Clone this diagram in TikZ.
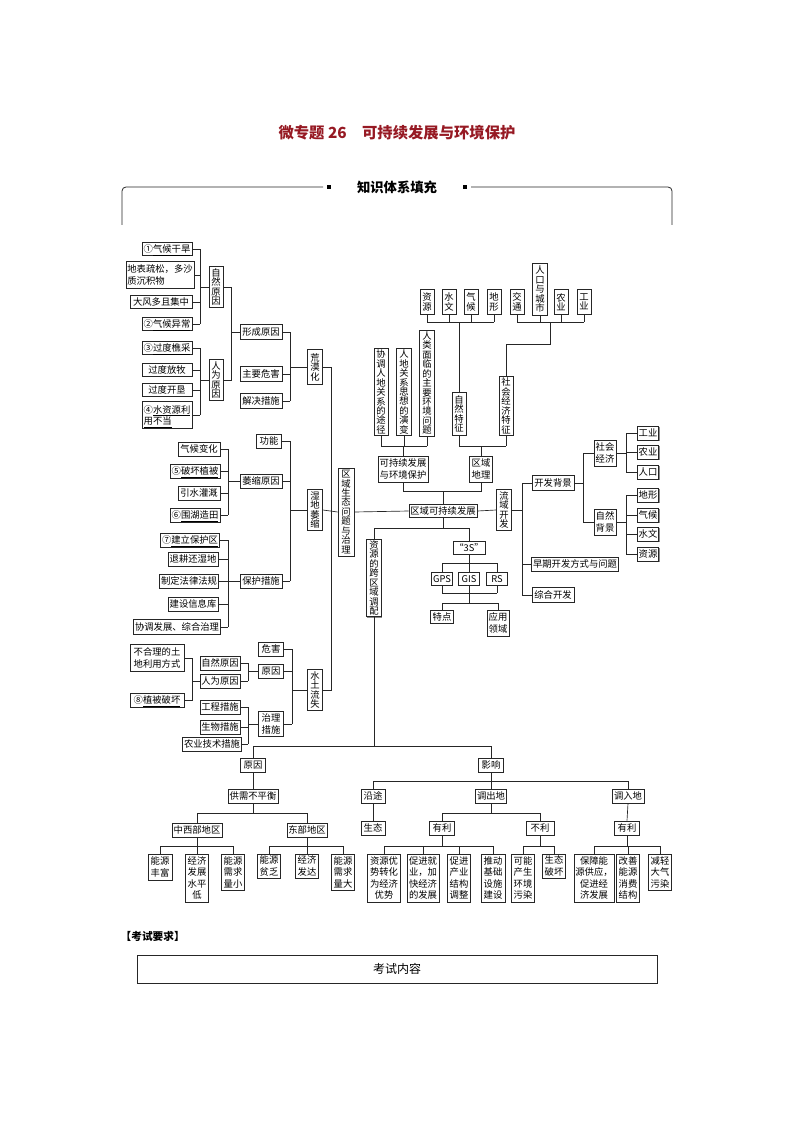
\documentclass[tikz,border=0pt]{standalone}
\usepackage{amsmath}
\usepackage{fontspec}
\setmainfont{Noto Sans CJK SC}
\usetikzlibrary{shadows}
\definecolor{tred}{RGB}{150,25,35}
\newcommand{\bx}[6]{\node[bx,minimum width=#4*0.75pt,minimum height=#5*0.75pt] (#1) at (#2,#3) {#6};}
\newcommand{\vx}[6]{\node[bx,vt,minimum width=#4*0.75pt,minimum height=#5*0.75pt] (#1) at (#2,#3) {#6};}
\newcommand{\U}[1]{\smash[b]{\underline{#1}}}
\begin{document}
\begin{tikzpicture}[x=0.75pt,y=-0.75pt,
  bx/.style={draw=black!85,fill=white,line width=0.5pt,inner sep=1pt,align=center,
    font=\fontsize{7}{8.6}\selectfont,
    drop shadow={shadow xshift=0.7pt,shadow yshift=-0.7pt,fill=black!45,opacity=1}},
  vt/.style={font=\fontsize{7}{7.1}\selectfont},
  ln/.style={line width=0.5pt,draw=black!85}]
\useasboundingbox (0,0) rectangle (794,1123);
\node[font=\fontsize{11.5}{13}\selectfont\bfseries,text=tred] (title) at (397,133) {微专题 26\quad 可持续发展与环境保护};
\node[font=\fontsize{10}{12}\selectfont\bfseries] (hdr) at (397,187) {知识体系填充};
\draw[ln,line width=0.6pt,rounded corners=3pt] (122,225) -- (122,187) -- (323,187);
\draw[ln,line width=0.6pt,rounded corners=3pt] (672,225) -- (672,187) -- (471,187);
\fill (327,185) rectangle (331,189);
\fill (463,185) rectangle (467,189);
% ---- desertification
\bx{t1}{167}{249}{50}{13}{①\U{气候干旱}}
\node[bx,minimum width=64*0.75pt,minimum height=27*0.75pt,align=left] (t2) at (160,275) {地表疏松，多沙\\质沉积物};
\bx{t3}{161}{302}{62}{13}{大风多且集中}
\bx{t4}{167}{324}{50}{13}{②\U{气候异常}}
\bx{t5}{167}{348}{50}{13}{③\U{过度樵采}}
\bx{t6}{167}{370}{50}{13}{过度放牧}
\bx{t7}{167}{390}{50}{13}{过度开垦}
\node[bx,minimum width=50*0.75pt,minimum height=27*0.75pt,align=left] (t8) at (167,415) {④\U{水资源利}\\\U{用不当}};
\vx{zr}{216}{287}{14}{41}{自\\然\\原\\因}
\vx{rw}{216}{380}{14}{41}{人\\为\\原\\因}
\bx{xc}{261}{332}{42}{15}{形成原因}
\bx{zw}{261}{374}{42}{15}{主要危害}
\bx{js}{261}{401}{42}{15}{解决措施}
\vx{hm}{315}{367}{15}{35}{荒\\漠\\化}
\coordinate (k200) at (200,0);\coordinate (k231) at (231,0);\coordinate (k290) at (290,0);\coordinate (k331) at (331,0);
\foreach \n in {t1,t2,t3,t4,t5,t6,t7,t8} \draw[ln] (\n.east) -- (\n.east -| k200);
\draw[ln] (t1.east -| k200) -- (t4.east -| k200);
\draw[ln] (t5.east -| k200) -- (t8.east -| k200);
\draw[ln] (zr.west) -- (zr.west -| k200);
\draw[ln] (rw.west) -- (rw.west -| k200);
\draw[ln] (zr.east) -- (zr.east -| k231) -- (rw.east -| k231) -- (rw.east);
\draw[ln] (xc.west) -- (xc.west -| k231);
\foreach \n in {xc,zw,js} \draw[ln] (\n.east) -- (\n.east -| k290);
\draw[ln] (xc.east -| k290) -- (js.east -| k290);
\draw[ln] (hm.west) -- (hm.west -| k290);
% ---- wetland
\bx{gn}{269}{441}{25}{14}{功能}
\bx{w1}{199}{449}{42}{14}{气候变化}
\bx{w2}{195}{471}{50}{14}{⑤\U{破坏植被}}
\bx{w3}{199}{493}{42}{14}{引水灌溉}
\bx{w4}{195}{515}{50}{14}{⑥\U{围湖造田}}
\bx{ws}{261}{481}{42}{14}{萎缩原因}
\bx{bh}{261}{581}{42}{14}{保护措施}
\bx{p1}{190}{540}{56}{14}{⑦\U{建立保护区}}
\bx{p2}{193}{559}{50}{14}{退耕还湿地}
\bx{p3}{189}{581}{58}{14}{制定法律法规}
\bx{p4}{193}{604}{50}{14}{建设信息库}
\bx{p5}{177}{627}{83}{15}{协调发展、综合治理}
\vx{sd}{315}{510}{15}{41}{湿\\地\\萎\\缩}
\vx{qy}{346}{512}{16}{88}{区\\域\\生\\态\\问\\题\\与\\治\\理}
\coordinate (k228) at (228,0);
\foreach \n in {w1,w2,w3,w4,p1,p2,p3,p4,p5} \draw[ln] (\n.east) -- (\n.east -| k228);
\draw[ln] (w1.east -| k228) -- (w4.east -| k228);
\draw[ln] (p1.east -| k228) -- (p5.east -| k228);
\draw[ln] (ws.west) -- (ws.west -| k228);
\draw[ln] (bh.west) -- (bh.west -| k228);
\foreach \n in {gn,ws,bh} \draw[ln] (\n.east) -- (\n.east -| k290);
\draw[ln] (gn.east -| k290) -- (bh.east -| k290);
\draw[ln] (sd.west) -- (sd.west -| k290);
\draw[ln] (sd.east) -- (qy.west);
% ---- soil erosion
\bx{sh}{271}{649}{25}{14}{危害}
\bx{sy}{271}{671}{25}{14}{原因}
\bx{sz}{271}{724}{25}{25}{治理\\措施}
\bx{s1}{220}{663}{40}{14}{自然原因}
\bx{s2}{220}{681}{40}{14}{人为原因}
\node[bx,minimum width=54*0.75pt,minimum height=27*0.75pt] (s3) at (157,658) {不合理的土\\地利用方式};
\bx{s4}{157}{700}{54}{14}{⑧\U{植被破坏}}
\bx{s5}{220}{707}{40}{14}{工程措施}
\bx{s6}{220}{727}{40}{14}{生物措施}
\bx{s7}{212}{744}{57}{14}{农业技术措施}
\vx{sl}{315}{690}{15}{41}{水\\土\\流\\失}
\coordinate (k248) at (248,0);\coordinate (k192) at (192,0);\coordinate (k292) at (292,0);
\foreach \n in {s1,s2,s5,s6,s7} \draw[ln] (\n.east) -- (\n.east -| k248);
\draw[ln] (s1.east -| k248) -- (s2.east -| k248);
\draw[ln] (s5.east -| k248) -- (s7.east -| k248);
\draw[ln] (sy.west) -- (sy.west -| k248);
\draw[ln] (sz.west) -- (sz.west -| k248);
\draw[ln] (s3.east) -- (s3.east -| k192) -- (s4.east -| k192) -- (s4.east);
\draw[ln] (s2.west) -- (s2.west -| k192);
\foreach \n in {sh,sy,sz} \draw[ln] (\n.east) -- (\n.east -| k292);
\draw[ln] (sh.east -| k292) -- (sz.east -| k292);
\draw[ln] (sl.west) -- (sl.west -| k292);
% spine
\draw[ln] (hm.east) -- (hm.east -| k331) -- (sl.east -| k331) -- (sl.east);
% ---- center
\bx{qk}{443}{511}{68}{13}{区域可持续发展}
\bx{kc}{403}{469}{50}{26}{可持续发展\\与环境保护}
\bx{dl}{481}{469}{23}{26}{区域\\地理}
\vx{c1}{381}{392}{14}{86}{协\\调\\人\\地\\关\\系\\的\\途\\径}
\vx{c2}{404}{392}{15}{87}{人\\地\\关\\系\\思\\想\\的\\演\\变}
\vx{c3}{427}{383}{15}{105}{人\\类\\面\\临\\的\\主\\要\\环\\境\\问\\题}
\vx{zt}{459}{414}{14}{43}{自\\然\\特\\征}
\vx{st}{506}{406}{14}{58}{社\\会\\经\\济\\特\\征}
\vx{r1}{427}{302}{14}{25}{资\\源}
\vx{r2}{449}{302}{14}{25}{水\\文}
\vx{r3}{471}{302}{14}{25}{气\\候}
\vx{r4}{494}{302}{14}{25}{地\\形}
\vx{r5}{517}{302}{14}{25}{交\\通}
\vx{r6}{540}{289}{15}{52}{人\\口\\与\\城\\市}
\vx{r7}{561}{302}{14}{25}{农\\业}
\vx{r8}{584}{302}{14}{25}{工\\业}
\coordinate (y322) at (0,322);\coordinate (y446) at (0,446);\coordinate (y491) at (0,491);
\foreach \n in {r1,r2,r3,r4,r5,r6,r7,r8} \draw[ln] (\n.south) -- (\n.south |- y322);
\draw[ln] (r1.south |- y322) -- (r4.south |- y322);
\draw[ln] (r5.south |- y322) -- (r8.south |- y322);
\draw[ln] (zt.north) -- (zt.north |- y322);
\draw[ln] (st.north) -- (506,344) -- (550,344) -- (550,322);
\foreach \n in {c1,c2,c3,zt,st} \draw[ln] (\n.south) -- (\n.south |- y446);
\draw[ln] (c1.south |- y446) -- (c3.south |- y446);
\draw[ln] (zt.south |- y446) -- (st.south |- y446);
\draw[ln] (kc.north) -- (kc.north |- y446);
\draw[ln] (dl.north) -- (dl.north |- y446);
\draw[ln] (kc.south) -- (kc.south |- y491) -- (dl.south |- y491) -- (dl.south);
\draw[ln] (qk.north) -- (qk.north |- y491);
\draw[ln] (qy.east) -- (qk.west);
% ---- river basin
\vx{ly}{504}{510}{15}{41}{流\\域\\开\\发}
\bx{kb}{553}{483}{42}{15}{开发背景}
\bx{zq}{575}{564}{86}{14}{早期开发方式与问题}
\bx{zh}{553}{595}{42}{15}{综合开发}
\bx{sj}{605}{453}{22}{26}{社会\\经济}
\bx{zb}{605}{522}{22}{26}{自然\\背景}
\bx{g1}{648}{433}{21}{14}{工业}
\bx{g2}{648}{452}{21}{14}{农业}
\bx{g3}{648}{472}{21}{14}{人口}
\bx{n1}{648}{495}{21}{14}{地形}
\bx{n2}{648}{515}{21}{14}{气候}
\bx{n3}{648}{534}{21}{14}{水文}
\bx{n4}{648}{554}{21}{14}{资源}
\draw[ln] (qk.east) -- (ly.west);
\coordinate (k522) at (522,0);\coordinate (k583) at (583,0);\coordinate (k626) at (626,0);
\foreach \n in {kb,zq,zh} \draw[ln] (\n.west) -- (\n.west -| k522);
\draw[ln] (kb.west -| k522) -- (zh.west -| k522);
\draw[ln] (ly.east) -- (ly.east -| k522);
\foreach \n in {sj,zb} \draw[ln] (\n.west) -- (\n.west -| k583);
\draw[ln] (sj.west -| k583) -- (zb.west -| k583);
\draw[ln] (kb.east) -- (kb.east -| k583);
\foreach \n in {g1,g2,g3,n1,n2,n3,n4} \draw[ln] (\n.west) -- (\n.west -| k626);
\draw[ln] (g1.west -| k626) -- (g3.west -| k626);
\draw[ln] (n1.west -| k626) -- (n4.west -| k626);
\draw[ln] (sj.east) -- (sj.east -| k626);
\draw[ln] (zb.east) -- (zb.east -| k626);
% ---- 3S
\vx{zy}{374}{578}{15}{76}{资\\源\\的\\跨\\区\\域\\调\\配}
\bx{s3s}{469}{548}{22}{13}{“3S”}
\bx{gps}{442}{579}{21}{13}{GPS}
\bx{gis}{469}{579}{21}{13}{GIS}
\bx{rs}{497}{579}{21}{13}{RS}
\bx{td}{442}{617}{23}{13}{特点}
\bx{yy}{498}{623}{22}{26}{应用\\领域}
\coordinate (y528) at (0,528);\coordinate (y563) at (0,563);\coordinate (y593) at (0,593);\coordinate (y603) at (0,603);
\draw[ln] (qk.south) -- (qk.south |- y528);
\draw[ln] (zy.north) -- (zy.north |- y528) -- (s3s.north |- y528) -- (s3s.north);
\draw[ln] (s3s.south) -- (s3s.south |- y563);
\foreach \n in {gps,gis,rs} {\draw[ln] (\n.north) -- (\n.north |- y563); \draw[ln] (\n.south) -- (\n.south |- y593);}
\draw[ln] (gps.north |- y563) -- (rs.north |- y563);
\draw[ln] (gps.south |- y593) -- (rs.south |- y593);
\draw[ln] (gis.south |- y593) -- (gis.south |- y603);
\draw[ln] (td.north) -- (td.north |- y603) -- (yy.north |- y603) -- (yy.north);
% ---- bottom
\bx{yy1}{253}{765}{25}{14}{原因}
\bx{yx}{491}{765}{25}{14}{影响}
\bx{gx}{253}{796}{50}{14}{供需不平衡}
\bx{zx}{197}{830}{50}{14}{中西部地区}
\bx{db}{307}{830}{40}{14}{东部地区}
\bx{b1}{160}{867}{24}{26}{能源\\丰富}
\bx{b2}{197}{878}{23}{48}{经济\\发展\\水平\\低}
\bx{b3}{233}{872}{23}{36}{能源\\需求\\量小}
\bx{b4}{269}{866}{23}{24}{能源\\贫乏}
\bx{b5}{307}{866}{23}{24}{经济\\发达}
\bx{b6}{343}{872}{23}{36}{能源\\需求\\量大}
\bx{yt}{373}{796}{24}{14}{沿途}
\bx{dc}{491}{796}{30}{14}{调出地}
\bx{dr}{628}{796}{32}{14}{调入地}
\bx{st2}{373}{828}{24}{14}{生态}
\bx{yl}{442}{828}{25}{14}{有利}
\bx{bl}{540}{828}{28}{14}{不利}
\bx{yl2}{627}{828}{25}{14}{有利}
\bx{e1}{384}{878}{33}{48}{资源优\\势转化\\为经济\\优势}
\bx{e2}{423}{878}{32}{48}{促进就\\业，加\\快经济\\的发展}
\bx{e3}{459}{878}{23}{48}{促进\\产业\\结构\\调整}
\bx{e4}{493}{878}{24}{48}{推动\\基础\\设施\\建设}
\bx{e5}{523}{878}{23}{48}{可能\\产生\\环境\\污染}
\bx{e6}{554}{866}{23}{24}{生态\\破坏}
\bx{e7}{594}{878}{34}{48}{保障能\\源供应，\\促进经\\济发展}
\bx{e8}{628}{878}{23}{48}{改善\\能源\\消费\\结构}
\bx{e9}{660}{872}{23}{36}{减轻\\大气\\污染}
\coordinate (y746) at (0,746);\coordinate (y781) at (0,781);\coordinate (y813) at (0,813);\coordinate (y846) at (0,846);
\draw[ln] (zy.south) -- (zy.south |- y746);
\draw[ln] (yy1.north) -- (yy1.north |- y746) -- (yx.north |- y746) -- (yx.north);
\draw[ln] (yy1.south) -- (gx.north);
\draw[ln] (gx.south) -- (gx.south |- y813);
\draw[ln] (zx.north) -- (zx.north |- y813) -- (db.north |- y813) -- (db.north);
\foreach \n in {b1,b2,b3,b4,b5,b6,e1,e2,e3,e4,e5,e6,e7,e8,e9} \draw[ln] (\n.north) -- (\n.north |- y846);
\draw[ln] (b1.north |- y846) -- (b3.north |- y846);
\draw[ln] (b4.north |- y846) -- (b6.north |- y846);
\draw[ln] (zx.south) -- (zx.south |- y846);
\draw[ln] (db.south) -- (db.south |- y846);
\draw[ln] (yx.south) -- (yx.south |- y781);
\draw[ln] (yt.north) -- (yt.north |- y781) -- (dr.north |- y781) -- (dr.north);
\draw[ln] (dc.north) -- (dc.north |- y781);
\draw[ln] (yt.south) -- (st2.north);
\draw[ln] (dr.south) -- (yl2.north);
\draw[ln] (dc.south) -- (dc.south |- y813);
\draw[ln] (yl.north) -- (yl.north |- y813) -- (bl.north |- y813) -- (bl.north);
\draw[ln] (e1.north |- y846) -- (e4.north |- y846);
\draw[ln] (e5.north |- y846) -- (e6.north |- y846);
\draw[ln] (e7.north |- y846) -- (e9.north |- y846);
\draw[ln] (yl.south) -- (yl.south |- y846);
\draw[ln] (bl.south) -- (bl.south |- y846);
\draw[ln] (yl2.south) -- (yl2.south |- y846);
% ---- exam
\node[font=\fontsize{8}{10}\selectfont\bfseries,anchor=west] (ks) at (116,936) {【考试要求】};
\node[draw=black!85,line width=0.6pt,minimum width=520*0.75pt,minimum height=28*0.75pt,font=\fontsize{9}{11}\selectfont] (kn) at (397,969) {考试内容};
\end{tikzpicture}
\end{document}
